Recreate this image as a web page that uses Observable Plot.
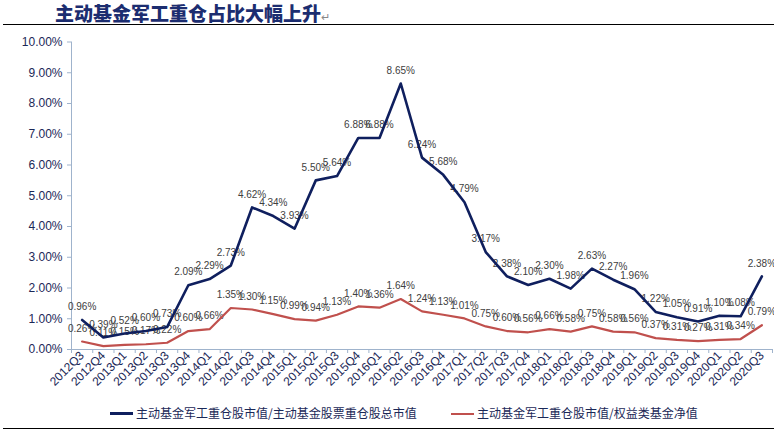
<!DOCTYPE html>
<html><head><meta charset="utf-8">
<script src="https://cdn.jsdelivr.net/npm/d3@7"></script>
<script src="https://cdn.jsdelivr.net/npm/@observablehq/plot@0.6"></script>
<style>
body{margin:0;background:#fff;}
#wrap{position:relative;width:774px;height:434px;overflow:hidden;background:#fff;font-family:"Liberation Sans",Arial,sans-serif;}
#title{position:absolute;left:55px;top:0px;font-family:"Noto Sans CJK SC";font-weight:900;font-size:19px;color:#1c2d70;line-height:26px;white-space:nowrap;}
#title span{font-weight:400;font-size:11px;color:#888;}
.rule{position:absolute;left:3px;width:771px;height:0;border-top:1.6px solid #000;}
#chart{position:absolute;left:0;top:30px;}
#chart svg g[aria-label^="y-axis"] line, #chart svg g[aria-label^="y-axis"] path,
#chart svg g[aria-label^="x-axis"] line, #chart svg g[aria-label^="x-axis"] path{stroke:#9fb3cc;}
.leg{position:absolute;top:404px;font-family:"Noto Sans CJK SC";font-size:12px;color:#1b2857;line-height:17px;white-space:nowrap;}
.sw{display:inline-block;width:23px;height:0;vertical-align:middle;margin-right:3px;position:relative;top:-1px;}
</style></head>
<body>
<div id="wrap">
  <div id="title">主动基金军工重仓占比大幅上升<span>↵</span></div>
  <div class="rule" style="top:24px"></div>
  <div id="chart"></div>
  <div class="leg" style="left:110px"><span class="sw" style="border-top:3px solid #0f1f5e"></span>主动基金军工重仓股市值/主动基金股票重仓股总市值</div>
  <div class="leg" style="left:451px"><span class="sw" style="border-top:2.5px solid #c0504d"></span>主动基金军工重仓股市值/权益类基金净值</div>
  <div class="rule" style="top:428px"></div>
</div>
<script>
const quarters = ["2012Q3","2012Q4","2013Q1","2013Q2","2013Q3","2013Q4","2014Q1","2014Q2","2014Q3","2014Q4","2015Q1","2015Q2","2015Q3","2015Q4","2016Q1","2016Q2","2016Q3","2016Q4","2017Q1","2017Q2","2017Q3","2017Q4","2018Q1","2018Q2","2018Q3","2018Q4","2019Q1","2019Q2","2019Q3","2019Q4","2020Q1","2020Q2","2020Q3"];
const shareOfHeavyHoldings = [0.96,0.39,0.52,0.60,0.73,2.09,2.29,2.73,4.62,4.34,3.93,5.50,5.64,6.88,6.88,8.65,6.24,5.68,4.79,3.17,2.38,2.10,2.30,1.98,2.63,2.27,1.96,1.22,1.05,0.91,1.10,1.08,2.38];
const shareOfEquityNAV = [0.26,0.11,0.15,0.17,0.22,0.60,0.66,1.35,1.30,1.15,0.99,0.94,1.13,1.40,1.36,1.64,1.24,1.13,1.01,0.75,0.60,0.56,0.66,0.58,0.75,0.58,0.56,0.37,0.31,0.27,0.31,0.34,0.79];
const yTickValues = [0,1,2,3,4,5,6,7,8,9,10];

const n = quarters.length;
const idx = d3.range(n);
const bounds = d3.range(n + 1).map(i => i - 0.5);
const rows = idx.map(i => ({i, q: quarters[i], a: shareOfHeavyHoldings[i], b: shareOfEquityNAV[i]}));
const fmt = v => v.toFixed(2) + "%";
const axisColor = "#9fb3cc";
const textColor = "#1b2857";

const chart = Plot.plot({
  width: 774, height: 375,
  marginLeft: 71, marginRight: 2, marginTop: 11.5, marginBottom: 56,
  x: {domain: [-0.5, n - 0.5], ticks: idx, tickFormat: i => quarters[i], tickRotate: -45, tickSize: 0, tickPadding: 4, label: null},
  y: {domain: [0, 10], ticks: yTickValues, tickFormat: d => d.toFixed(2) + "%", tickSize: 4, tickPadding: 5, label: null},
  style: {fontFamily: "'Liberation Sans', Arial, sans-serif", background: "white", overflow: "visible", color: textColor, fontSize: "12px"},
  marks: [
    Plot.ruleX([-0.5], {stroke: axisColor}),
    Plot.ruleY([0], {stroke: axisColor}),
    Plot.ruleX(bounds, {y1: 0, y2: 0, insetBottom: -4, stroke: axisColor}),
    Plot.text(rows, {x: "i", y: "b", text: d => fmt(d.b), dy: -13, fontSize: 10, fill: "#404040"}),
    Plot.text(rows, {x: "i", y: "a", text: d => fmt(d.a), dy: -13, fontSize: 10, fill: "#404040"}),
    Plot.line(rows, {x: "i", y: "b", stroke: "#c0504d", strokeWidth: 2.2}),
    Plot.line(rows, {x: "i", y: "a", stroke: "#0f1f5e", strokeWidth: 2.6})
  ]
});
document.getElementById("chart").appendChild(chart);
</script>
</body></html>
